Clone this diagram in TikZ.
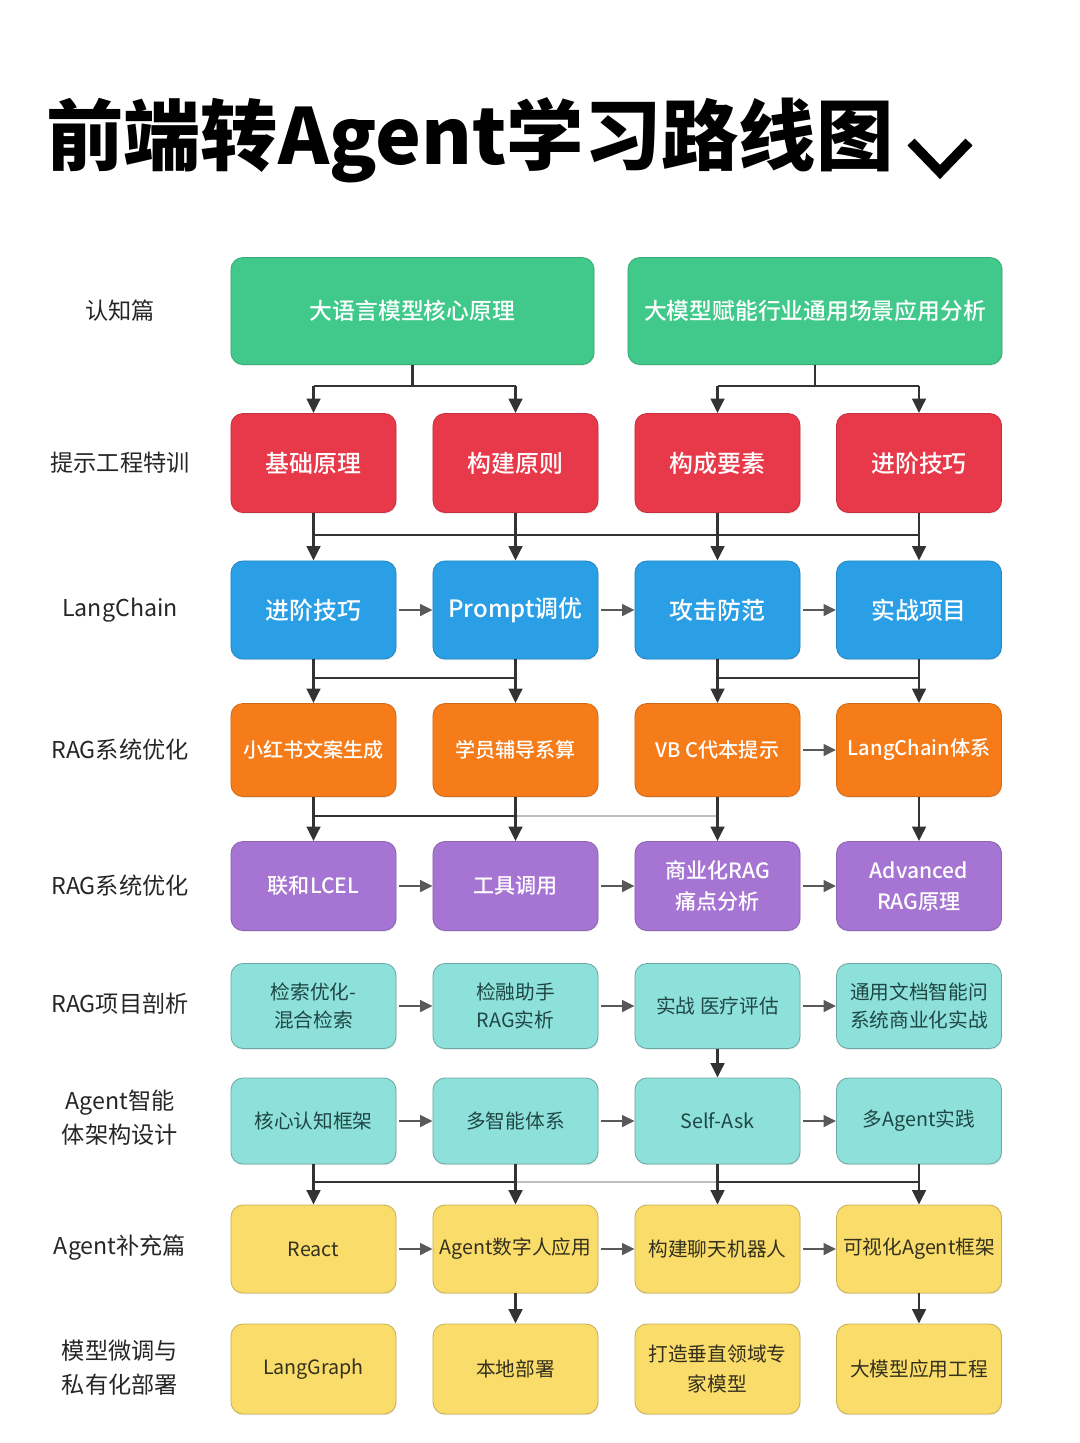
\documentclass[tikz,border=0pt]{standalone}
\usepackage{fontspec}
\setmainfont{Noto Sans CJK SC}
\newfontfamily\mediumcjk{Noto Sans CJK SC Medium}
\usetikzlibrary{arrows.meta, shadows}

\definecolor{cGreen}{HTML}{40C98A}
\definecolor{cRed}{HTML}{E8394A}
\definecolor{cBlue}{HTML}{2A9FE6}
\definecolor{cOrange}{HTML}{F67C19}
\definecolor{cPurple}{HTML}{A674D3}
\definecolor{cTeal}{HTML}{8EE1DA}
\definecolor{cYellow}{HTML}{F9DC6A}
\definecolor{cTealTxt}{HTML}{1F4644}
\definecolor{cYelTxt}{HTML}{33301E}
\definecolor{cLine}{HTML}{333333}

\begin{document}
\begin{tikzpicture}[
  x=0.025cm, y=-0.025cm,
  box/.style={rounded corners=3mm, align=center, inner sep=0pt,
              minimum width=4.125cm, line width=0.6pt,
              drop shadow={opacity=0.15, shadow xshift=0.4pt, shadow yshift=-1pt}},
  greenbox/.style={box, fill=cGreen, draw=cGreen!85!black, text=white,
                   font=\fontsize{16.2}{21}\mediumcjk, minimum height=2.675cm},
  redbox/.style={box, fill=cRed, draw=cRed!85!black, text=white,
                 font=\fontsize{17}{21}\mediumcjk, minimum height=2.475cm},
  bluebox/.style={box, fill=cBlue, draw=cBlue!85!black, text=white,
                  font=\fontsize{17}{21}\mediumcjk, minimum height=2.45cm},
  orangebox/.style={box, fill=cOrange, draw=cOrange!85!black, text=white,
                    font=\fontsize{14.3}{20}\mediumcjk, minimum height=2.325cm},
  purplebox/.style={box, fill=cPurple, draw=cPurple!85!black, text=white,
                    font=\fontsize{15}{22}\mediumcjk, minimum height=2.225cm},
  tealbox/.style={box, fill=cTeal, draw=cTeal!75!black, text=cTealTxt,
                  font=\fontsize{14}{20}\selectfont, minimum height=2.125cm},
  yellowbox/.style={box, fill=cYellow, draw=cYellow!80!black, text=cYelTxt,
                    font=\fontsize{14}{21}\selectfont, minimum height=2.2cm},
  lab/.style={align=center, text=black!85, font=\fontsize{16.5}{24}\selectfont},
  lk/.style={draw=cLine, line width=1.8pt},
  lklight/.style={draw=black!25, line width=1.8pt},
  ar/.style={lk, -{Triangle[length=3.6mm, width=3.4mm]}},
  arh/.style={draw=black!65, line width=1.8pt, shorten <=2pt,
              -{Triangle[length=3.1mm, width=2.9mm]}}
]
  \useasboundingbox (0,0) rectangle (1080,1443);

  % title
  \node[anchor=base west, inner sep=0pt, font=\fontsize{55}{64}\selectfont\bfseries]
    (title) at (46,164) {前端转Agent学习路线图};
  \draw[line width=7pt, line join=miter] (911,142) -- (940,172) -- (969,142);

  % row labels
  \foreach \y/\txt/\nm in {311/认知篇/l1, 463/提示工程特训/l2, 610/LangChain/l3,
      750/RAG系统优化/l4, 886/RAG系统优化/l5, 1004/RAG项目剖析/l6,
      1118/Agent智能\\体架构设计/l7, 1248/Agent补充篇/l8, 1368/模型微调与\\私有化部署/l9}
    {\node[lab] (\nm) at (120,\y) {\txt};}

  % cognition
  \node[greenbox, minimum width=9.075cm] (g1) at (412.5,311) {大语言模型核心原理};
  \node[greenbox, minimum width=9.35cm] (g2) at (815,311) {大模型赋能行业通用场景应用分析};

  % prompt engineering
  \node[redbox] (r1) at (313.5,463) {基础原理};
  \node[redbox] (r2) at (515.5,463) {构建原则};
  \node[redbox] (r3) at (717.5,463) {构成要素};
  \node[redbox] (r4) at (919,463) {进阶技巧};

  % langchain
  \node[bluebox] (b1) at (313.5,610) {进阶技巧};
  \node[bluebox] (b2) at (515.5,610) {Prompt调优};
  \node[bluebox] (b3) at (717.5,610) {攻击防范};
  \node[bluebox] (b4) at (919,610) {实战项目};

  % rag
  \node[orangebox] (o1) at (313.5,750) {小红书文案生成};
  \node[orangebox] (o2) at (515.5,750) {学员辅导系算};
  \node[orangebox] (o3) at (717.5,750) {VB C代本提示};
  \node[orangebox] (o4) at (919,750) {LangChain体系};

  \node[purplebox] (p1) at (313.5,886) {联和LCEL};
  \node[purplebox] (p2) at (515.5,886) {工具调用};
  \node[purplebox] (p3) at (717.5,886) {商业化RAG\\痛点分析};
  \node[purplebox] (p4) at (919,886) {Advanced\\RAG原理};

  % rag projects
  \node[tealbox] (t1) at (313.5,1006) {检索优化-\\混合检索};
  \node[tealbox] (t2) at (515.5,1006) {检融助手\\RAG实析};
  \node[tealbox] (t3) at (717.5,1006) {实战 医疗评估};
  \node[tealbox] (t4) at (919,1006) {通用文档智能问\\系统商业化实战};

  % agent
  \node[tealbox, minimum height=2.15cm] (a1) at (313.5,1121) {核心认知框架};
  \node[tealbox, minimum height=2.15cm] (a2) at (515.5,1121) {多智能体系};
  \node[tealbox, minimum height=2.15cm] (a3) at (717.5,1121) {Self-Ask};
  \node[tealbox, minimum height=2.15cm] (a4) at (919,1121) {多Agent实践};

  \node[yellowbox] (y1) at (313.5,1249) {React};
  \node[yellowbox] (y2) at (515.5,1249) {Agent数字人应用};
  \node[yellowbox] (y3) at (717.5,1249) {构建聊天机器人};
  \node[yellowbox] (y4) at (919,1249) {可视化Agent框架};

  % fine-tuning and deployment
  \node[yellowbox, minimum height=2.25cm] (z1) at (313.5,1369) {LangGraph};
  \node[yellowbox, minimum height=2.25cm] (z2) at (515.5,1369) {本地部署};
  \node[yellowbox, minimum height=2.25cm] (z3) at (717.5,1369) {打造垂直领域专\\家模型};
  \node[yellowbox, minimum height=2.25cm] (z4) at (919,1369) {大模型应用工程};

  % junction levels
  \coordinate (j1) at (0,386);
  \coordinate (j2) at (0,535);
  \coordinate (j3) at (0,678);
  \coordinate (j4) at (0,816);
  \coordinate (j5) at (0,1182);

  % green -> red
  \draw[lk] (g1) -- (g1.south |- j1);
  \draw[lk] (g2) -- (g2.south |- j1);
  \draw[lk] (r1.north |- j1) -- (r2.north |- j1);
  \draw[lk] (r3.north |- j1) -- (r4.north |- j1);
  \foreach \n in {r1,r2,r3,r4} \draw[ar] (\n.north |- j1) -- (\n);

  % bars between rows
  \draw[lk] (r1.south |- j2) -- (r4.south |- j2);
  \draw[lk] (b1.south |- j3) -- (b2.south |- j3);
  \draw[lk] (b3.south |- j3) -- (b4.south |- j3);
  \draw[lk] (o1.south |- j4) -- (o2.south |- j4);
  \draw[lklight] (o2.south |- j4) -- (o3.south |- j4);
  \draw[lk] (a1.south |- j5) -- (a2.south |- j5);
  \draw[lklight] (a2.south |- j5) -- (a3.south |- j5);
  \draw[lk] (a3.south |- j5) -- (a4.south |- j5);

  % vertical arrows
  \foreach \u/\v in {r1/b1, r2/b2, r3/b3, r4/b4,
                     b1/o1, b2/o2, b3/o3, b4/o4,
                     o1/p1, o2/p2, o3/p3, o4/p4,
                     t3/a3, a1/y1, a2/y2, a3/y3, a4/y4,
                     y2/z2, y4/z4}
    \draw[ar] (\u) -- (\v);

  % horizontal arrows
  \foreach \u/\v in {b1/b2, b2/b3, b3/b4, o3/o4,
                     p1/p2, p2/p3, p3/p4,
                     t1/t2, t2/t3, t3/t4,
                     a1/a2, a2/a3, a3/a4,
                     y1/y2, y2/y3, y3/y4}
    \draw[arh] (\u) -- (\v);
\end{tikzpicture}
\end{document}
